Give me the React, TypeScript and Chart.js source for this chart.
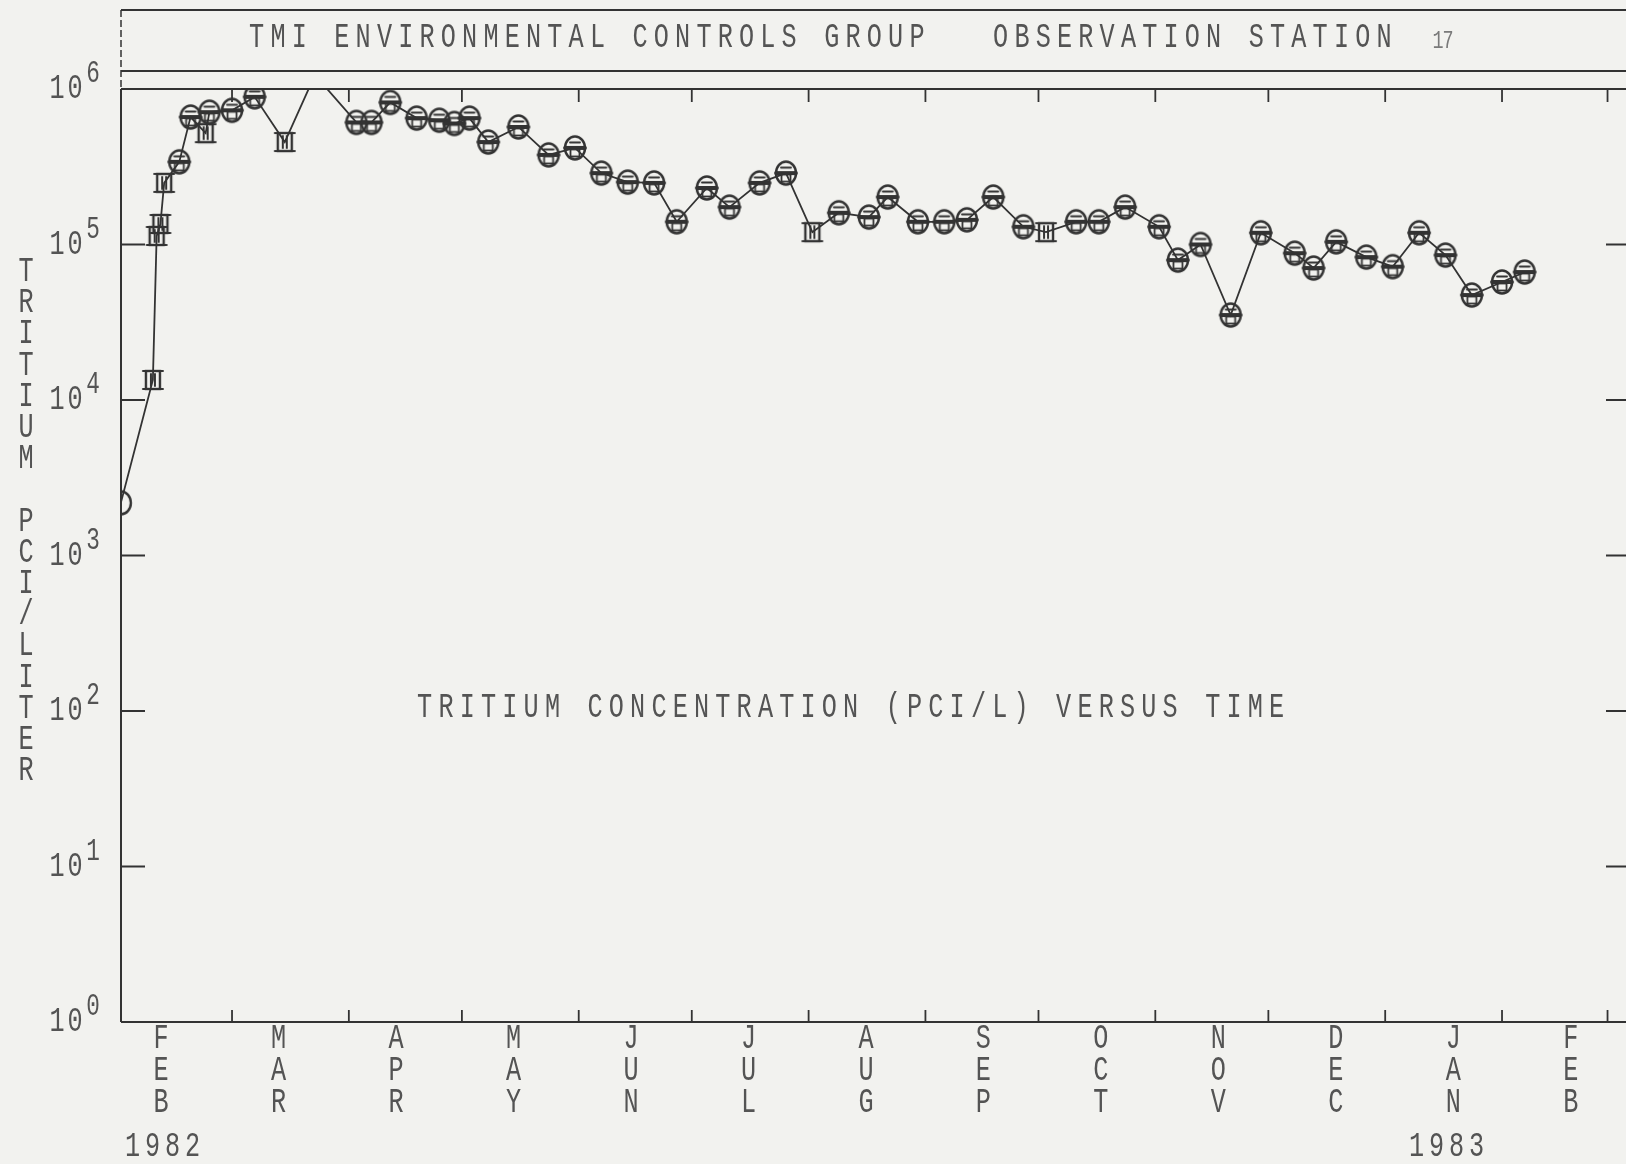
import React, { useEffect, useRef } from "react";
import { Chart, registerables } from "chart.js";

Chart.register(...registerables);

// Sampling dates, in days after 1 Feb 1982
const sampleDays = [
  -1.5, 7, 8, 9, 10, 14, 17, 21, 22, 28, 34, 42, 50, 61, 65, 70, 77, 83, 87, 91,
  96, 104, 112, 119, 126, 133, 140, 146, 154, 160, 168, 175, 182, 189, 197, 202,
  210, 217, 223, 230, 238, 244, 252, 258, 265, 274, 279, 285, 293, 301, 310, 315,
  321, 329, 336, 343, 350, 357, 365, 371,
];

// Tritium concentration, pCi/L
const tritium = [
  2180, 13450, 113500, 135500, 249000, 340000, 660000, 520000, 710000, 730000,
  890000, 456000, 1230000, 610000, 610000, 820000, 650000, 630000, 600000, 650000,
  456000, 570000, 377000, 418000, 288000, 252000, 249000, 140000, 231000, 174000,
  249000, 288000, 120000, 160000, 150000, 202000, 140000, 140000, 144000, 202000,
  130000, 120000, 140000, 140000, 174000, 130000, 79400, 100000, 35200, 119000,
  88000, 70600, 104000, 83000, 72000, 119000, 85500, 47300, 57400, 66500,
];

// Samples plotted with the square symbol
const squareSamples = [1, 2, 3, 4, 7, 11, 32, 41];

// First day of each month, in days after 1 Feb 1982
const monthStartDays = [28, 59, 89, 120, 150, 181, 212, 242, 273, 303, 334, 365, 393];
const monthNames = ["FEB", "MAR", "APR", "MAY", "JUN", "JUL", "AUG", "SEP", "OCT", "NOV", "DEC", "JAN", "FEB"];
const yearLabels = ["1982", "1983"];
const decadeExponents = [0, 1, 2, 3, 4, 5, 6];

const titleLeft = "TMI ENVIRONMENTAL CONTROLS GROUP";
const titleRight = "OBSERVATION STATION";
const stationNumber = "17";
const caption = "TRITIUM CONCENTRATION (PCI/L) VERSUS TIME";
const yAxisTitle = "TRITIUM PCI/LITER";

const W = 1626;
const H = 1164;
const BG = "#f2f2ef";
const INK = "#333333";
const TEXT = "#545454";
const MONO = "'Liberation Mono', 'DejaVu Sans Mono', monospace";

// plotter lettering is narrow and tall
const GLYPH_SX = 0.84;
const GLYPH_SY = 1.14;

// Month labels sit on an even plotter grid (days after 1 Feb 1982)
const monthLabelStart = 9.2;
const monthLabelStep = 31.17;
// Year captions, centred at these days after 1 Feb 1982
const yearLabelDays = [9.6, 350.3];

function glyph(ctx: CanvasRenderingContext2D, ch: string, x: number, y: number, sx = GLYPH_SX, sy = GLYPH_SY) {
  ctx.save();
  ctx.translate(x, y);
  ctx.scale(sx, sy);
  ctx.fillText(ch, 0, 0);
  ctx.restore();
}

function drawChars(ctx: CanvasRenderingContext2D, text: string, x0: number, y: number, pitch: number) {
  for (let i = 0; i < text.length; i++) {
    const ch = text[i];
    if (ch === " ") continue;
    glyph(ctx, ch, x0 + i * pitch + pitch / 2, y);
  }
}

function line(ctx: CanvasRenderingContext2D, x1: number, y1: number, x2: number, y2: number) {
  ctx.beginPath();
  ctx.moveTo(x1, y1);
  ctx.lineTo(x2, y2);
  ctx.stroke();
}

function makeMarker(kind: "plain" | "circle" | "square"): HTMLCanvasElement {
  const c = document.createElement("canvas");
  c.width = 28;
  c.height = 30;
  const g = c.getContext("2d")!;
  g.strokeStyle = INK;
  g.lineCap = "round";
  if (kind === "square") {
    g.lineWidth = 2.4;
    g.strokeRect(7, 6, 14, 18);
    g.lineWidth = 2;
    line(g, 4, 6, 24, 6);
    line(g, 4, 24, 24, 24);
    line(g, 12, 9, 12, 21);
    line(g, 16, 9, 16, 21);
  } else {
    g.lineWidth = 2.4;
    g.beginPath();
    g.ellipse(14, 15, 10, 11.5, 0, 0, Math.PI * 2);
    g.stroke();
    if (kind === "circle") {
      g.lineWidth = 3.8;
      line(g, 4, 15, 24, 15);
      g.lineWidth = 1.8;
      g.strokeRect(9.5, 16.5, 9, 7);
      line(g, 9, 9.5, 19, 9.5);
    }
  }
  return c;
}

const plotterFrame = {
  id: "plotterFrame",
  beforeDraw(chart: any) {
    const { ctx } = chart;
    ctx.save();
    ctx.fillStyle = BG;
    ctx.fillRect(0, 0, W, H);
    ctx.restore();
  },
  afterDraw(chart: any) {
    const { ctx, chartArea } = chart;
    const xs = chart.scales.x;
    const ys = chart.scales.y;
    const { left, top, bottom } = chartArea;
    const right = W;

    ctx.save();
    ctx.strokeStyle = INK;
    ctx.lineWidth = 2;

    // header box
    line(ctx, left, 10, right, 10);
    line(ctx, left, 71, right, 71);
    ctx.save();
    ctx.setLineDash([7, 3]);
    ctx.lineWidth = 1.5;
    line(ctx, left, 10, left, top);
    ctx.restore();

    // plot frame
    line(ctx, left, top, right, top);
    line(ctx, left, bottom, right, bottom);
    line(ctx, left, top, left, bottom);

    // decade ticks, left and right
    for (const k of decadeExponents) {
      if (k === 0 || k === 6) continue;
      const y = ys.getPixelForValue(Math.pow(10, k));
      line(ctx, left, y, left + 24, y);
      line(ctx, right - 20, y, right, y);
    }

    // month ticks, top and bottom
    ctx.lineWidth = 1.8;
    for (const d of monthStartDays) {
      const x = xs.getPixelForValue(d);
      line(ctx, x, top, x, top + 13);
      line(ctx, x, bottom, x, bottom - 12);
    }

    // text
    ctx.fillStyle = TEXT;
    ctx.textAlign = "center";
    ctx.textBaseline = "middle";
    ctx.font = `30px ${MONO}`;

    drawChars(ctx, titleLeft, 246, 38, 21.3);
    drawChars(ctx, titleRight, 990, 38, 21.3);
    drawChars(ctx, caption, 414, 708, 21.3);

    // y-axis decade labels
    for (const k of decadeExponents) {
      const y = ys.getPixelForValue(Math.pow(10, k));
      ctx.font = `30px ${MONO}`;
      drawChars(ctx, "10", 48, y, 18);
      ctx.font = `27px ${MONO}`;
      glyph(ctx, String(k), 93, y - 15);
    }

    // stacked y-axis title
    ctx.font = `30px ${MONO}`;
    for (let i = 0; i < yAxisTitle.length; i++) {
      const ch = yAxisTitle[i];
      if (ch !== " ") glyph(ctx, ch, 26, 272 + i * 31.2);
    }

    // stacked month names
    monthNames.forEach((name, i) => {
      const x = xs.getPixelForValue(monthLabelStart + monthLabelStep * i);
      for (let j = 0; j < name.length; j++) {
        glyph(ctx, name[j], x, 1039 + j * 32);
      }
    });

    // years
    yearLabels.forEach((yr, i) => {
      const cx = xs.getPixelForValue(yearLabelDays[i]);
      drawChars(ctx, yr, cx - 40, 1147, 20);
    });

    // station number
    ctx.font = `22px ${MONO}`;
    ctx.fillStyle = "#7a7a7a";
    drawChars(ctx, stationNumber, 1433, 41, 10);

    ctx.restore();
  },
};

export default function App() {
  const canvasRef = useRef<HTMLCanvasElement | null>(null);

  useEffect(() => {
    const canvas = canvasRef.current;
    if (!canvas) return;
    const markers = {
      plain: makeMarker("plain"),
      circle: makeMarker("circle"),
      square: makeMarker("square"),
    };
    const chart = new Chart(canvas, {
      type: "line",
      data: {
        datasets: [
          {
            data: sampleDays.map((d, i) => ({ x: d, y: tritium[i] })),
            borderColor: INK,
            borderWidth: 1.8,
            tension: 0,
            fill: false,
            pointRadius: 12,
            pointStyle: (c: any) =>
              c.dataIndex === 0
                ? markers.plain
                : squareSamples.includes(c.dataIndex)
                ? markers.square
                : markers.circle,
          },
        ],
      },
      options: {
        animation: false,
        responsive: false,
        devicePixelRatio: 1,
        events: [],
        layout: { autoPadding: false, padding: { left: 121, right: 0, top: 89, bottom: 142 } },
        plugins: { legend: { display: false }, tooltip: { enabled: false } },
        scales: {
          x: { type: "linear", min: -1.46, max: 397.9, display: false },
          y: { type: "logarithmic", min: 1, max: 1e6, display: false },
        },
      },
      plugins: [plotterFrame],
    } as any);
    return () => chart.destroy();
  }, []);

  return (
    <div style={{ position: "fixed", left: 0, top: 0, width: W, height: H, background: BG }}>
      <canvas ref={canvasRef} width={W} height={H} style={{ display: "block", width: W, height: H }} />
    </div>
  );
}
